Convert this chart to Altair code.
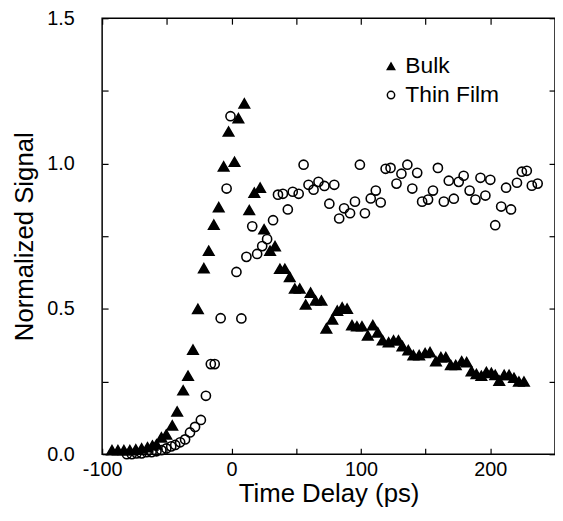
import altair as alt
import pandas as pd

# Bulk (filled triangles)
bulk_t = [-92.4, -87.8, -83.2, -78.6, -74.0, -69.5, -64.9, -61.1, -58.0, -54.2,
          -50.4, -45.8, -42.0, -37.4, -33.6, -29.8, -26.0, -21.4, -17.6, -13.7,
          -9.9, -6.1, -2.3, 2.3, 5.3, 9.9, 13.7, 17.6, 22.1, 25.2,
          29.8, 33.6, 37.4, 41.2, 45.0, 48.9, 52.7, 57.3, 61.1, 64.9,
          69.5, 73.3, 77.9, 81.7, 85.5, 89.3, 93.1, 96.9, 100.8, 105.3,
          109.2, 113.0, 116.8, 121.4, 125.2, 129.0, 132.1, 136.6, 140.5, 145.0,
          149.6, 153.4, 158.0, 161.8, 165.6, 169.5, 173.3, 177.9, 181.7, 185.5,
          189.3, 193.1, 197.0, 200.8, 203.8, 206.9, 210.7, 214.5, 218.3, 222.1,
          226.0]
bulk_v = [0.014, 0.014, 0.014, 0.014, 0.017, 0.02, 0.024, 0.03, 0.034, 0.058,
          0.068, 0.099, 0.147, 0.22, 0.27, 0.36, 0.50, 0.64, 0.70, 0.79,
          0.85, 0.99, 1.11, 1.006, 1.156, 1.207, 0.84, 0.90, 0.917, 0.774,
          0.70, 0.716, 0.638, 0.638, 0.61, 0.57, 0.57, 0.515, 0.556, 0.529,
          0.529, 0.433, 0.464, 0.494, 0.505, 0.501, 0.444, 0.44, 0.44, 0.409,
          0.444, 0.419, 0.392, 0.385, 0.392, 0.392, 0.372, 0.358, 0.341, 0.341,
          0.348, 0.351, 0.32, 0.334, 0.334, 0.307, 0.307, 0.32, 0.317, 0.286,
          0.276, 0.27, 0.283, 0.28, 0.273, 0.253, 0.273, 0.273, 0.263, 0.25,
          0.25]

# Thin Film (open circles)
film_t = [-80.9, -77.1, -73.3, -69.5, -65.6, -61.8, -58.0, -54.2, -50.4, -46.6,
          -43.5, -39.7, -35.9, -32.1, -28.2, -23.7, -19.8, -16.0, -13.0, -8.4,
          -3.8, -0.8, 3.8, 7.6, 11.5, 16.0, 19.8, 23.7, 27.5, 32.1,
          35.9, 39.7, 43.5, 47.3, 51.9, 55.7, 59.5, 63.4, 67.2, 71.8,
          75.6, 79.4, 83.2, 87.0, 91.6, 95.4, 99.2, 103.1, 107.6, 111.5,
          115.3, 119.1, 122.9, 127.5, 131.3, 135.9, 139.7, 143.5, 147.3, 151.9,
          155.7, 159.5, 164.1, 167.9, 171.8, 175.6, 179.4, 184.0, 188.5, 192.4,
          196.2, 200.0, 203.8, 208.4, 212.2, 216.0, 220.6, 224.4, 228.2, 232.1,
          236.6]
film_v = [0.0, 0.0, 0.003, 0.003, 0.007, 0.007, 0.01, 0.014, 0.02, 0.027,
          0.032, 0.041, 0.051, 0.075, 0.094, 0.118, 0.201, 0.31, 0.31, 0.468,
          0.914, 1.163, 0.627, 0.467, 0.679, 0.784, 0.689, 0.716, 0.740, 0.805,
          0.893, 0.896, 0.842, 0.903, 0.896, 0.996, 0.927, 0.910, 0.937, 0.923,
          0.862, 0.927, 0.811, 0.846, 0.829, 0.869, 0.996, 0.829, 0.880, 0.907,
          0.866, 0.982, 0.985, 0.931, 0.965, 0.996, 0.914, 0.968, 0.869, 0.876,
          0.907, 0.985, 0.869, 0.941, 0.879, 0.937, 0.958, 0.907, 0.876, 0.951,
          0.890, 0.944, 0.788, 0.852, 0.917, 0.842, 0.934, 0.972, 0.975, 0.924,
          0.931]

series = ["Bulk", "Thin Film"]
x_ticks = [-100, -50, 0, 50, 100, 150, 200]
y_ticks = [0, 0.25, 0.5, 0.75, 1.0, 1.25, 1.5]

bulk_df = pd.DataFrame({"t": bulk_t, "v": bulk_v, "series": series[0]})
film_df = pd.DataFrame({"t": film_t, "v": film_v, "series": series[1]})

FONT = "Liberation Sans"
xs = alt.Scale(domain=[-100, 250], nice=False, zero=False)
ys = alt.Scale(domain=[0, 1.5], nice=False, zero=False)

common_axis = dict(domain=False, grid=False, tickSize=6, offset=-6,
                   tickColor="black", tickWidth=1.2, labelFlush=False)

x_bottom = alt.Axis(orient="bottom", values=x_ticks, labelFont=FONT, labelFontSize=20,
                    labelColor="black", labelPadding=5, labelOverlap=False,
                    labelExpr="datum.value % 100 === 0 ? (datum.value < 0 ? '-' + toString(abs(datum.value)) : toString(datum.value)) : ''",
                    titleFont=FONT, titleFontSize=26, titleFontWeight="normal",
                    titleColor="black", titlePadding=2, **common_axis)
y_left = alt.Axis(orient="left", values=y_ticks, labelFont=FONT, labelFontSize=20,
                  labelColor="black", labelPadding=28, labelOverlap=False,
                  labelExpr="(datum.value * 2) % 1 === 0 ? format(datum.value, '.1f') : ''",
                  titleFont=FONT, titleFontSize=26, titleFontWeight="normal",
                  titleColor="black", titlePadding=9, **common_axis)
x_top = alt.Axis(orient="top", values=x_ticks, labels=False, title=None, **common_axis)
y_right = alt.Axis(orient="right", values=y_ticks, labels=False, title=None, **common_axis)

legend = alt.Legend(orient="none", legendX=280, legendY=37, padding=0, title=None,
                    labelFont=FONT, labelFontSize=23, labelColor="black", labelOffset=3,
                    symbolSize=55, symbolStrokeColor="black", symbolStrokeWidth=1.5,
                    rowPadding=5)

shape_enc = alt.Shape("series:N", scale=alt.Scale(domain=series, range=["triangle-up", "circle"]),
                      legend=legend)
fill_enc = alt.Fill("series:N", scale=alt.Scale(domain=series, range=["black", "transparent"]),
                    legend=legend)
stroke_enc = alt.Stroke("series:N", scale=alt.Scale(domain=series, range=["black", "black"]),
                        legend=legend)

def layer_for(data, size, axis_x, axis_y):
    return alt.Chart(data).mark_point(size=size, strokeWidth=1.6, opacity=1).encode(
        x=alt.X("t:Q", scale=xs, axis=axis_x, title="Time Delay (ps)"),
        y=alt.Y("v:Q", scale=ys, axis=axis_y, title="Normalized Signal"),
        shape=shape_enc,
        fill=fill_enc,
        stroke=stroke_enc,
    )

bulk_layer = layer_for(bulk_df, 110, x_bottom, y_left)
film_layer = layer_for(film_df, 85, x_bottom, y_left)
mirror = alt.Chart(bulk_df).mark_point(opacity=0).encode(
    x=alt.X("t:Q", scale=xs, axis=x_top),
    y=alt.Y("v:Q", scale=ys, axis=y_right),
)

main = alt.layer(bulk_layer, film_layer)
chart = alt.layer(main, mirror).resolve_axis(x="independent", y="independent").properties(
    width=457, height=440,
    autosize=alt.AutoSizeParams(type="none"),
    padding={"left": 95, "top": 8, "right": 0, "bottom": 57},
).configure_view(stroke="black", strokeWidth=1.5)

chart.save("out.html", embed_options={"renderer": "svg", "actions": False})
